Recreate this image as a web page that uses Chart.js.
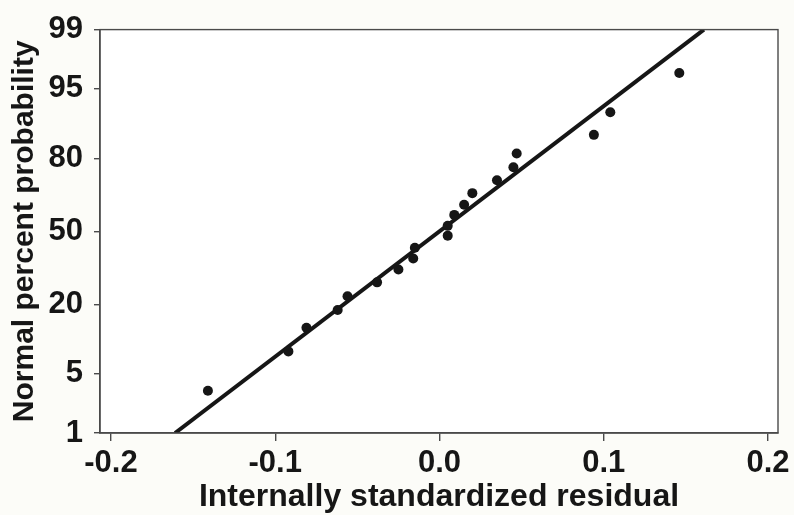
<!DOCTYPE html>
<html>
<head>
<meta charset="utf-8">
<script src="https://cdn.jsdelivr.net/npm/chart.js@4/dist/chart.umd.min.js"></script>
<style>
  html, body { margin: 0; padding: 0; background: #fcfcf8; }
  #wrap { width: 794px; height: 515px; }
</style>
</head>
<body>
<div id="wrap"><canvas id="chart"></canvas></div>
<script>
/* Residuos (eixo x) e probabilidade normal em % (eixo y) */
const residuals = [-0.141, -0.092, -0.081, -0.062, -0.056, -0.038, -0.025, -0.016, -0.015, 0.005,
                   0.005, 0.009, 0.015, 0.020, 0.035, 0.045, 0.047, 0.094, 0.104, 0.146];
const percents = [3.3, 8.3, 13.3, 18.2, 22.7, 27.8, 33.0, 37.7, 42.5, 48.0,
                  52.5, 57.5, 62.0, 67.0, 72.2, 77.0, 81.5, 86.7, 91.5, 96.6];

/* Reta de referencia */
const fitX = [-0.161, 0.161];
const fitP = [1, 99];

/* Rotulos dos eixos */
const yTickPercents = [1, 5, 20, 50, 80, 95, 99];
const xTicks = [-0.2, -0.1, 0.0, 0.1, 0.2];

/* Inversa da normal padrao (Acklam), usada para a escala de probabilidade */
function probit(p) {
    const a = [-3.969683028665376e+01, 2.209460984245205e+02, -2.759285104469687e+02,
               1.383577518672690e+02, -3.066479806614716e+01, 2.506628277459239e+00];
    const b = [-5.447609879822406e+01, 1.615858368580409e+02, -1.556989798598866e+02,
               6.680131188771972e+01, -1.328068155288572e+01];
    const c = [-7.784894002430293e-03, -3.223964580411365e-01, -2.400758277161838e+00,
               -2.549732539343734e+00, 4.374664141464968e+00, 2.938163982698783e+00];
    const d = [7.784695709041462e-03, 3.224671290700398e-01, 2.445134137142996e+00,
               3.754408661907416e+00];
    const pl = 0.02425;
    let q, r;
    if (p < pl) {
        q = Math.sqrt(-2 * Math.log(p));
        return (((((c[0]*q+c[1])*q+c[2])*q+c[3])*q+c[4])*q+c[5]) / ((((d[0]*q+d[1])*q+d[2])*q+d[3])*q+1);
    }
    if (p > 1 - pl) {
        q = Math.sqrt(-2 * Math.log(1 - p));
        return -(((((c[0]*q+c[1])*q+c[2])*q+c[3])*q+c[4])*q+c[5]) / ((((d[0]*q+d[1])*q+d[2])*q+d[3])*q+1);
    }
    q = p - 0.5;
    r = q * q;
    return (((((a[0]*r+a[1])*r+a[2])*r+a[3])*r+a[4])*r+a[5])*q / (((((b[0]*r+b[1])*r+b[2])*r+b[3])*r+b[4])*r+1);
}
const z = (pct) => probit(pct / 100);

const ink = "#161616";
const axisColor = "#4a4a4a";
const font = "'Liberation Sans', Arial, sans-serif";

/* Fundo branco e moldura da area do grafico */
const frame = {
    id: "frame",
    beforeDraw(chart) {
        const { ctx, chartArea: a } = chart;
        ctx.save();
        ctx.fillStyle = "#ffffff";
        ctx.fillRect(a.left, a.top, a.right - a.left, a.bottom - a.top);
        ctx.restore();
    },
    afterDraw(chart) {
        const { ctx, chartArea: a } = chart;
        ctx.save();
        ctx.strokeStyle = axisColor;
        ctx.lineWidth = 1.4;
        ctx.strokeRect(a.left, a.top, a.right - a.left, a.bottom - a.top);
        ctx.restore();
    }
};

new Chart(document.getElementById("chart"), {
    type: "scatter",
    data: {
        datasets: [
            {
                // Pontos dos residuos
                data: residuals.map((x, i) => ({ x: x, y: z(percents[i]) })),
                backgroundColor: ink,
                borderWidth: 0,
                pointRadius: 5,
                order: 0,
            },
            {
                // Reta ajustada
                data: fitX.map((x, i) => ({ x: x, y: z(fitP[i]) })),
                showLine: true,
                borderColor: ink,
                borderWidth: 4,
                pointRadius: 0,
                order: 1,
            },
        ],
    },
    options: {
        responsive: true,
        maintainAspectRatio: false,
        animation: false,
        layout: { padding: { top: 24, right: 16, left: 0, bottom: 0 } },
        plugins: { legend: { display: false }, tooltip: { enabled: false } },
        scales: {
            x: {
                type: "linear",
                min: -0.2067,
                max: 0.2061,
                afterBuildTicks: (s) => { s.ticks = xTicks.map((v) => ({ value: v })); },
                afterFit: (s) => { s.height = 82; },
                grid: { drawOnChartArea: false, drawTicks: true, tickLength: 8, color: axisColor, lineWidth: 1.4 },
                border: { display: true, color: axisColor, width: 1.4 },
                ticks: {
                    color: ink,
                    padding: 4,
                    font: { family: font, size: 31, weight: "bold" },
                    callback: (v) => Number(v).toFixed(1),
                },
                title: {
                    display: true,
                    text: "Internally standardized residual",
                    color: ink,
                    font: { family: font, size: 32, weight: "bold", lineHeight: 1 },
                    padding: { top: 0, bottom: 2 },
                },
            },
            y: {
                type: "linear",
                min: z(1),
                max: z(99),
                afterBuildTicks: (s) => { s.ticks = yTickPercents.map((p) => ({ value: z(p) })); },
                afterFit: (s) => { s.width = 100; },
                grid: { drawOnChartArea: false, drawTicks: true, tickLength: 6, color: axisColor, lineWidth: 1.4 },
                border: { display: true, color: axisColor, width: 1.4 },
                ticks: {
                    color: ink,
                    padding: 11,
                    font: { family: font, size: 31, weight: "bold" },
                    callback: function (v, i) { return String(yTickPercents[i]); },
                },
                title: {
                    display: true,
                    text: "Normal percent probability",
                    color: ink,
                    font: { family: font, size: 30, weight: "bold", lineHeight: 1 },
                    padding: { top: 10, bottom: 0 },
                },
            },
        },
    },
    plugins: [frame],
});
</script>
</body>
</html>
